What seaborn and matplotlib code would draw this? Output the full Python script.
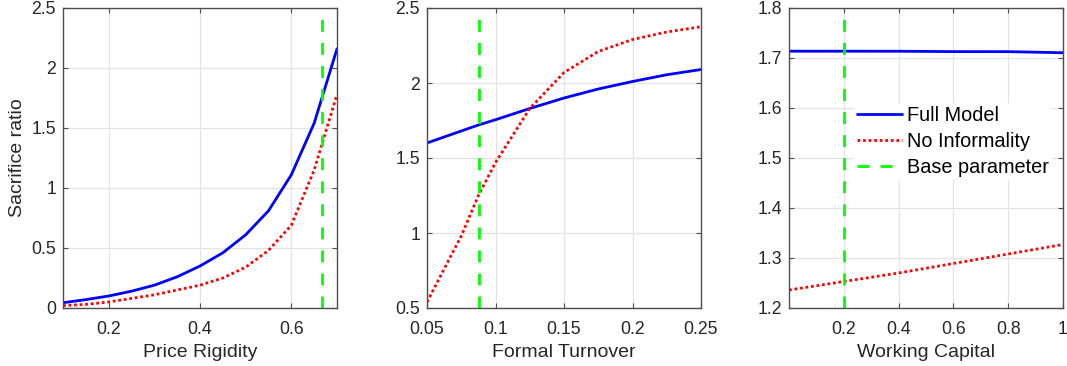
import numpy as np
import pandas as pd
import matplotlib
matplotlib.use("Agg")
import matplotlib.pyplot as plt
import seaborn as sns

# ---- Data ----
rigidity = [0.10, 0.15, 0.20, 0.25, 0.30, 0.35, 0.40, 0.45, 0.50, 0.55, 0.60, 0.65, 0.70]
rigidity_full = [0.044, 0.07, 0.10, 0.14, 0.19, 0.26, 0.35, 0.46, 0.61, 0.81, 1.11, 1.54, 2.16]
rigidity_noinf = [0.02, 0.03, 0.05, 0.08, 0.11, 0.15, 0.19, 0.25, 0.34, 0.48, 0.69, 1.15, 1.78]
rigidity_base = 0.6667

turnover = [0.05, 0.075, 0.0875, 0.10, 0.125, 0.15, 0.175, 0.20, 0.225, 0.25]
turnover_full = [1.60, 1.68, 1.72, 1.755, 1.83, 1.90, 1.96, 2.01, 2.055, 2.09]
turnover_noinf = [0.54, 0.98, 1.25, 1.47, 1.83, 2.07, 2.21, 2.29, 2.34, 2.375]
turnover_base = 0.0883

capital = [0.0, 0.2, 0.4, 0.6, 0.8, 1.0]
capital_full = [1.7136, 1.7136, 1.7135, 1.7128, 1.7127, 1.7105]
capital_noinf = [1.236, 1.253, 1.270, 1.289, 1.308, 1.327]
capital_base = 0.2

xlabels = ["Price Rigidity", "Formal Turnover", "Working Capital"]
ylabel = "Sacrifice ratio"
legend_labels = ["Full Model", "No Informality", "Base parameter"]

panels = [
    (rigidity, rigidity_full, rigidity_noinf, rigidity_base, (0.1, 0.7), (0, 2.5),
     [0.2, 0.4, 0.6], ["0.2", "0.4", "0.6"],
     [0, 0.5, 1, 1.5, 2, 2.5], ["0", "0.5", "1", "1.5", "2", "2.5"]),
    (turnover, turnover_full, turnover_noinf, turnover_base, (0.05, 0.25), (0.5, 2.5),
     [0.05, 0.1, 0.15, 0.2, 0.25], ["0.05", "0.1", "0.15", "0.2", "0.25"],
     [0.5, 1, 1.5, 2, 2.5], ["0.5", "1", "1.5", "2", "2.5"]),
    (capital, capital_full, capital_noinf, capital_base, (0, 1), (1.2, 1.8),
     [0.2, 0.4, 0.6, 0.8, 1], ["0.2", "0.4", "0.6", "0.8", "1"],
     [1.2, 1.3, 1.4, 1.5, 1.6, 1.7, 1.8], ["1.2", "1.3", "1.4", "1.5", "1.6", "1.7", "1.8"]),
]

sns.set_theme(style="whitegrid")
plt.rcParams["font.family"] = ["Liberation Sans", "DejaVu Sans"]

fig = plt.figure(figsize=(10.67, 3.66), dpi=100)
lefts = [63 / 1067, 427 / 1067, 789 / 1067]
bottom = 1 - 308 / 366
height = 300 / 366
width = 274 / 1067

axis_col = "#4d4d4d"
text_col = "#262626"
LW = 2.0

for i, (x, yf, yn, base, xlim, ylim, xt, xtl, yt, ytl) in enumerate(panels):
    ax = fig.add_axes([lefts[i], bottom, width, height])
    df = pd.DataFrame({"x": x, "full": yf, "noinf": yn})
    sns.lineplot(data=df, x="x", y="full", ax=ax, color=(0, 0, 1), lw=LW,
                 label=legend_labels[0])
    sns.lineplot(data=df, x="x", y="noinf", ax=ax, color=(1, 0, 0), lw=LW,
                 label=legend_labels[1])
    ax.lines[-1].set_linestyle((0, (1, 1)))
    ax.axvline(base, color=(0, 1, 0), lw=LW, ls=(0, (4.3, 4.0)),
               ymin=0.0, ymax=1.0, label=legend_labels[2])
    ax.set_xlim(*xlim)
    ax.set_ylim(*ylim)
    ax.set_xticks(xt)
    ax.set_xticklabels(xtl)
    ax.set_yticks(yt)
    ax.set_yticklabels(ytl)
    ax.set_xlabel(xlabels[i], fontsize=14, color=text_col, labelpad=5)
    ax.set_ylabel(ylabel if i == 0 else "", fontsize=14, color=text_col, labelpad=4)
    ax.grid(True, color="#e3e3e3", lw=0.9)
    ax.set_facecolor("white")
    for s in ax.spines.values():
        s.set_visible(True)
        s.set_color(axis_col)
        s.set_linewidth(1.0)
    ax.tick_params(direction="in", length=3.5, width=0.8, color=axis_col,
                   labelsize=12.7, labelcolor=text_col, top=True, right=True,
                   bottom=True, left=True)
    ax.tick_params(axis="x", pad=9)
    ax.tick_params(axis="y", pad=5)
    if i == 2:
        leg = ax.legend(loc="upper left", bbox_to_anchor=(0.24, 0.68),
                        frameon=True, fontsize=14.3, handlelength=2.26,
                        handletextpad=0.25, borderpad=0.1, labelspacing=0.36,
                        borderaxespad=0)
        leg.get_frame().set_edgecolor("white")
        leg.get_frame().set_facecolor("white")
        leg.get_frame().set_alpha(1.0)
        leg.get_frame().set_boxstyle("square", pad=0)
        for t in leg.get_texts():
            t.set_color("black")
    else:
        lg = ax.get_legend()
        if lg is not None:
            lg.remove()

fig.savefig("out.png", dpi=100)
